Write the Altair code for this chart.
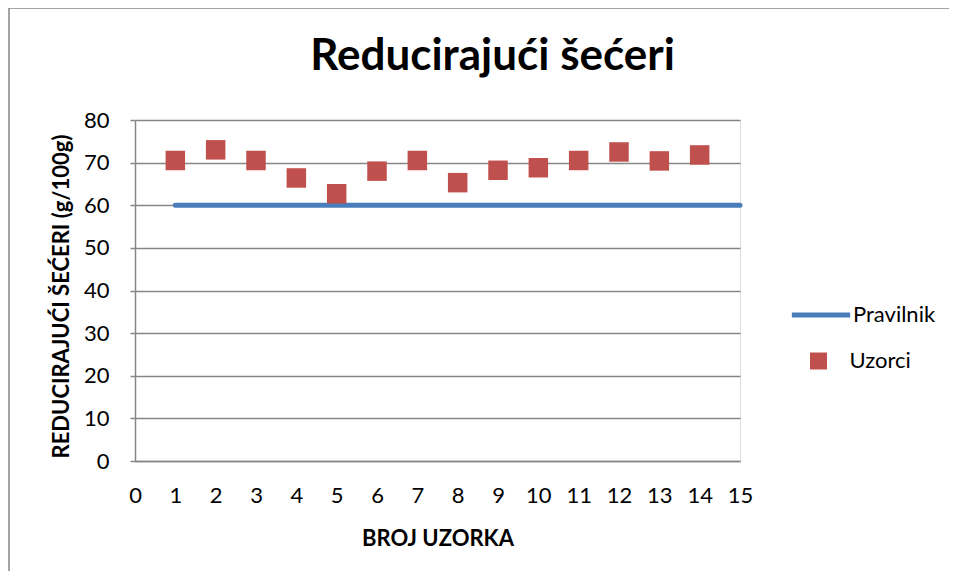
import altair as alt
import pandas as pd

# ---- data ----
sample_no = list(range(1, 15))
sample_values = [70.5, 73.0, 70.5, 66.4, 62.7, 68.0, 70.5, 65.3, 68.2, 68.8, 70.5, 72.5, 70.4, 71.8]
limit_x = [1, 15]
limit_y = [60, 60]
x_ticks = list(range(0, 16))
y_ticks = list(range(0, 90, 10))
series_names = ["Pravilnik", "Uzorci"]

FONT = "Lato"
GRID = "#868686"
BLUE = "#4A7EBB"
RED = "#C0504D"

pts = pd.DataFrame({"x": sample_no, "y": sample_values, "series": series_names[1]})
lim = pd.DataFrame({"x": limit_x, "y": limit_y, "series": series_names[0]})

W, H = 605, 341

xscale = alt.Scale(domain=[0, 15], nice=False, zero=False)
yscale = alt.Scale(domain=[0, 80], nice=False)

xaxis = alt.Axis(values=x_ticks, title="BROJ UZORKA", grid=False, ticks=False,
                 labelPadding=24, domainColor=GRID, domainWidth=1.5,
                 labelFontSize=22, labelFont=FONT, labelColor="#000",
                 titleFont=FONT, titleFontSize=22, titleFontWeight="bold", titleColor="#000",
                 titleY=84, titleBaseline="alphabetic", labelFlush=False, labelOverlap=False)
yaxis = alt.Axis(values=y_ticks, title="REDUCIRAJUĆI ŠEĆERI (g/100g)", grid=True,
                 gridColor=GRID, gridWidth=1.5, tickColor=GRID, tickSize=5, tickWidth=1.5,
                 domainColor=GRID, domainWidth=1.5, labelPadding=21,
                 labelFontSize=22, labelFont=FONT, labelColor="#000",
                 titleFont=FONT, titleFontSize=22, titleFontWeight="bold", titleColor="#000",
                 titleX=-74, titleY=176, titleAngle=270, titleAlign="center",
                 titleBaseline="middle", labelFlush=False, labelOverlap=False)

line = alt.Chart(lim).mark_line(strokeWidth=5, strokeCap="round").encode(
    x=alt.X("x:Q", scale=xscale, axis=xaxis),
    y=alt.Y("y:Q", scale=yscale, axis=yaxis),
    stroke=alt.Stroke("series:N",
                      scale=alt.Scale(domain=[series_names[0]], range=[BLUE]),
                      legend=alt.Legend(orient="none", legendX=654, legendY=163, title=None,
                                        padding=0, symbolType="stroke", symbolSize=3400,
                                        symbolStrokeWidth=5, labelOffset=0,
                                        labelFont=FONT, labelFontSize=22, labelColor="#000")),
)

points = alt.Chart(pts).mark_square(size=380, opacity=1).encode(
    x=alt.X("x:Q", scale=xscale),
    y=alt.Y("y:Q", scale=yscale),
    fill=alt.Fill("series:N",
                  scale=alt.Scale(domain=[series_names[1]], range=[RED]),
                  legend=alt.Legend(orient="none", legendX=672.5, legendY=230, title=None,
                                    padding=0, symbolType="square", symbolSize=289,
                                    symbolStrokeWidth=0, symbolOpacity=1, labelOffset=20,
                                    labelFont=FONT, labelFontSize=22, labelColor="#000")),
)

frame_df = pd.DataFrame({"k": [0]})
border_left = alt.Chart(frame_df).mark_rule(color=GRID, strokeWidth=1.5).encode(
    x=alt.value(-126), y=alt.value(-112), y2=alt.value(460))
border_top = alt.Chart(frame_df).mark_rule(color=GRID, strokeWidth=1.5).encode(
    x=alt.value(-126), x2=alt.value(820), y=alt.value(-112))

chart = alt.layer(border_left, border_top, line, points).properties(
    width=W, height=H,
    title=alt.TitleParams("Reducirajući šećeri", font=FONT, fontSize=44, fontWeight="bold",
                          color="#000", anchor="middle", dx=55, offset=0, dy=107,
                          baseline="alphabetic"),
    autosize=alt.AutoSizeParams(type="none"),
    padding={"left": 127, "top": 112, "right": 209, "bottom": 110},
).resolve_scale(stroke="independent", fill="independent").configure_view(
    stroke=None
).configure(background="white")

chart.save("out.html", embed_options={"renderer": "svg", "actions": False})
